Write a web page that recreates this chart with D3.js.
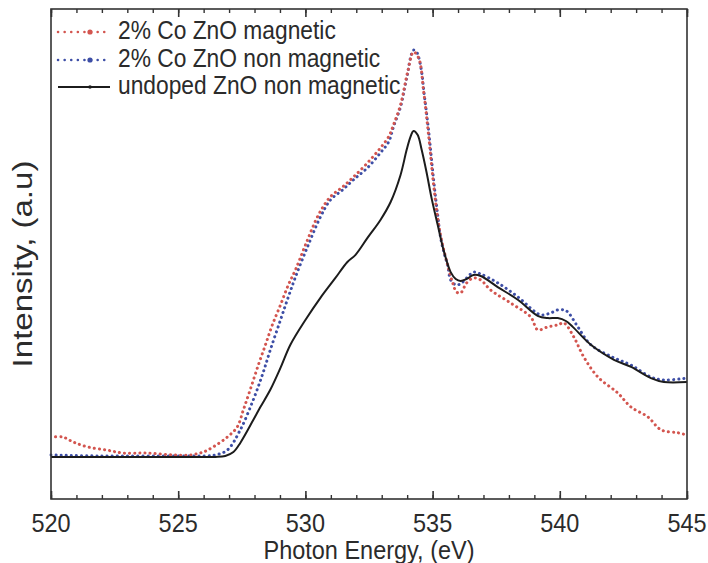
<!DOCTYPE html>
<html><head><meta charset="utf-8">
<script src="https://cdn.jsdelivr.net/npm/d3@7"></script>
<style>body{margin:0;background:#fff}svg{display:block}text{font-family:"Liberation Sans",Arial,sans-serif;fill:#2b2b2b}</style>
</head><body><svg id="c" width="708" height="563"></svg>
<script>
const xTicks = [520, 525, 530, 535, 540, 545];
const seriesNames = ["2% Co ZnO magnetic", "2% Co ZnO non magnetic", "undoped ZnO non magnetic"];
const xLabel = "Photon Energy, (eV)";
const yLabel = "Intensity, (a.u)";

const magE = [520.08,520.47,520.87,521.42,522.2,522.83,523.78,524.8,525.47,525.98,526.38,526.93,527.32,527.56,527.83,528.15,528.43,528.7,529.02,529.33,529.61,530,530.51,530.98,531.46,531.89,532.44,532.95,533.27,533.46,533.74,534.02,534.25,534.45,534.65,534.84,535.04,535.2,535.35,535.59,535.79,535.94,536.1,536.34,536.61,536.89,537.28,538.07,538.86,539.13,539.53,539.92,540.16,540.55,540.94,541.5,542.28,542.8,543.46,543.98,544.65,545];
const magI = [0.061,0.061,0.046,0.031,0.021,0.012,0.012,0.006,0.006,0.015,0.031,0.061,0.092,0.144,0.206,0.282,0.344,0.405,0.466,0.528,0.574,0.65,0.742,0.798,0.828,0.859,0.902,0.948,0.982,1.018,1.08,1.181,1.242,1.224,1.12,0.988,0.834,0.733,0.666,0.589,0.534,0.506,0.503,0.534,0.549,0.543,0.512,0.472,0.429,0.39,0.399,0.405,0.411,0.368,0.307,0.245,0.196,0.153,0.123,0.083,0.074,0.067];

const nonE = [520,521.93,525,526.06,526.46,526.93,527.44,527.95,528.31,528.62,529.02,529.33,529.61,530.08,530.59,530.98,531.46,531.89,532.44,532.95,533.27,533.46,533.74,533.9,534.02,534.13,534.25,534.37,534.45,534.57,534.65,534.84,535.04,535.2,535.31,535.47,535.59,535.71,535.91,536.1,536.34,536.61,536.89,537.56,538.35,539.25,539.65,539.92,540.16,540.31,540.71,541.22,542.13,542.8,543.58,544.09,545];
const nonI = [0.006,0.003,0.003,0.003,0.006,0.021,0.083,0.175,0.252,0.328,0.42,0.491,0.552,0.644,0.736,0.788,0.819,0.85,0.887,0.933,0.966,1.012,1.074,1.132,1.178,1.224,1.248,1.242,1.227,1.181,1.126,1.003,0.85,0.742,0.675,0.62,0.589,0.543,0.528,0.531,0.549,0.567,0.561,0.534,0.491,0.436,0.442,0.451,0.451,0.445,0.399,0.344,0.304,0.282,0.245,0.236,0.242];

const undE = [520,525,526.46,526.85,527.17,527.44,527.95,528.23,528.62,529.02,529.41,530,530.59,531.18,531.65,531.97,532.44,532.95,533.35,533.74,533.98,534.13,534.25,534.41,534.57,534.76,534.96,535.2,535.43,535.71,535.91,536.1,536.34,536.61,536.89,537.56,538.35,539.13,539.53,539.92,540.24,540.51,541.22,542.13,542.8,543.58,544.09,545];
const undI = [0,0,0,0.003,0.015,0.043,0.113,0.153,0.206,0.273,0.344,0.42,0.488,0.549,0.598,0.62,0.672,0.727,0.782,0.865,0.942,0.982,1,0.988,0.942,0.874,0.794,0.712,0.635,0.567,0.546,0.54,0.546,0.558,0.555,0.521,0.482,0.433,0.426,0.426,0.417,0.399,0.344,0.298,0.276,0.242,0.23,0.23];

const colors = ["#d3554f", "#3d4ea6", "#1c1c1c"];

const svg = d3.select("#c");
const L = 51, R = 687, T = 9, B = 499;
const SY = 1.12; // vertical stretch of the lettering
const x = d3.scaleLinear().domain([520, 545]).range([L, R]);
const y = d3.scaleLinear().domain([-0.129, 1.374]).range([B, T]);

const mk = (E, I) => E.map((e, i) => [e, I[i]]);
const line = d3.line().x(d => x(d[0])).y(d => y(d[1])).curve(d3.curveCatmullRom.alpha(0.5));

const g = svg.append("g");
g.append("path").datum(mk(nonE, nonI)).attr("d", line).attr("fill", "none")
  .attr("stroke", colors[1]).attr("stroke-width", 3).attr("stroke-dasharray", "0.1,5").attr("stroke-linecap", "round");
g.append("path").datum(mk(magE, magI)).attr("d", line).attr("fill", "none")
  .attr("stroke", colors[0]).attr("stroke-width", 3).attr("stroke-dasharray", "0.1,5").attr("stroke-dashoffset", 2.5).attr("stroke-linecap", "round");
g.append("path").datum(mk(undE, undI)).attr("d", line).attr("fill", "none")
  .attr("stroke", colors[2]).attr("stroke-width", 2);

svg.append("rect").attr("x", L).attr("y", T).attr("width", R - L).attr("height", B - T)
  .attr("fill", "none").attr("stroke", "#333").attr("stroke-width", 1.6);

const minor = d3.range(520, 546, 1);
const styleTicks = w => s => { s.select(".domain").remove(); s.selectAll("line").attr("stroke", "#333").attr("stroke-width", w); s.selectAll("text").remove(); };
svg.append("g").attr("transform", `translate(0,${B})`)
  .call(d3.axisBottom(x).tickValues(minor).tickSize(-4).tickFormat("")).call(styleTicks(1.4));
svg.append("g").attr("transform", `translate(0,${B})`)
  .call(d3.axisBottom(x).tickValues(xTicks).tickSize(-8).tickFormat("")).call(styleTicks(1.6));
svg.append("g").attr("transform", `translate(0,${T})`)
  .call(d3.axisTop(x).tickValues(minor).tickSize(-4).tickFormat("")).call(styleTicks(1.4));
svg.append("g").attr("transform", `translate(0,${T})`)
  .call(d3.axisTop(x).tickValues(xTicks).tickSize(-8).tickFormat("")).call(styleTicks(1.6));

svg.append("g").selectAll("text").data(xTicks).join("text")
  .attr("transform", d => `translate(${x(d)},532) scale(1,${SY})`)
  .attr("text-anchor", "middle").attr("font-size", 23.5).text(d3.format("d"));

svg.append("text").attr("transform", `translate(${(L + R) / 2},559) scale(1,${SY})`)
  .attr("text-anchor", "middle").attr("font-size", 23.5).text(xLabel);
svg.append("text").attr("transform", `translate(32,${(T + B) / 2 + 10}) rotate(-90) scale(${SY + 0.06},1)`)
  .attr("text-anchor", "middle").attr("font-size", 28).text(yLabel);

const leg = svg.append("g");
const rows = [32, 60, 87];
seriesNames.forEach((n, i) => {
  const yy = rows[i];
  const ln = leg.append("line").attr("x1", 58).attr("x2", 110).attr("y1", yy).attr("y2", yy)
    .attr("stroke", colors[i]);
  if (i < 2) ln.attr("stroke-width", 2.5).attr("stroke-dasharray", "0.1,6.5").attr("stroke-linecap", "round");
  else ln.attr("stroke-width", 2);
  leg.append("circle").attr("cx", 90).attr("cy", yy).attr("r", i < 2 ? 2.6 : 1.8).attr("fill", colors[i]);
  leg.append("text").attr("transform", `translate(118,${yy + 7}) scale(1,${SY})`).attr("font-size", 22.8).text(n);
});
</script></body></html>
